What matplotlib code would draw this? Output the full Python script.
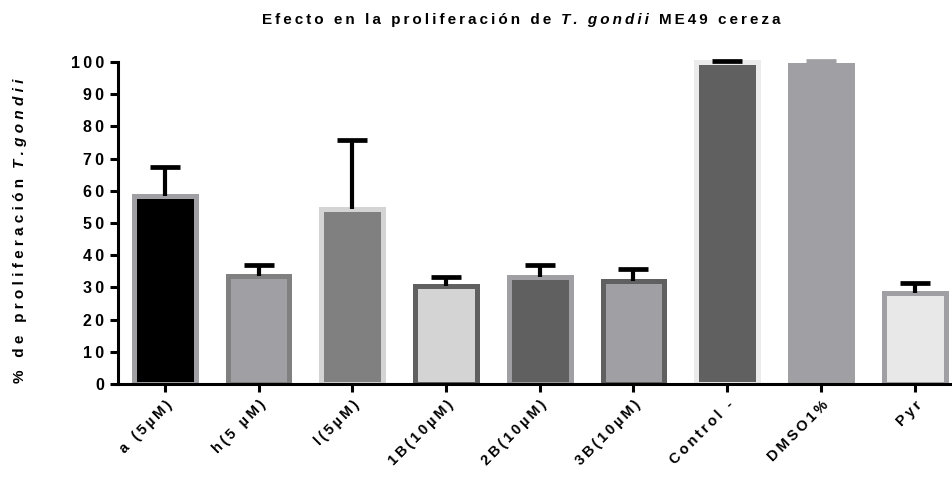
import numpy as np
import matplotlib
matplotlib.use('Agg')
import matplotlib.pyplot as plt
from matplotlib.patches import Rectangle

plt.rcParams['font.family'] = ['Liberation Sans', 'DejaVu Sans']
plt.rcParams['font.weight'] = 'bold'

# % proliferacion de T. gondii ME49 cereza (media y error superior)
labels = ['a (5µM)', 'h(5 µM)', 'l(5µM)', '1B(10µM)', '2B(10µM)',
          '3B(10µM)', 'Control -', 'DMSO1%', 'Pyr']
means = [58.5, 33.5, 54.5, 30.3, 33.3, 32.0, 100.0, 99.0, 28.3]
err_up = [9.0, 3.5, 21.3, 3.0, 3.7, 3.7, 0.4, 1.2, 3.1]

fills = ['#000000', '#a0a0a4', '#808080', '#d4d4d4', '#606060',
         '#a0a0a4', '#606060', '#a0a0a4', '#e8e8e8']
edges = ['#a0a0a4', '#808080', '#d4d4d4', '#606060', '#a0a0a4',
         '#606060', '#ebebeb', '#a0a0a4', '#a0a0a4']
errcols = ['k', 'k', 'k', 'k', 'k', 'k', 'k', '#a0a0a4', 'k']


def spaced(s, sep='\u2009'):
    # espaciado entre letras al estilo Prism
    return sep.join(s)


fig = plt.figure(figsize=(9.53, 4.92), dpi=100)
ax = fig.add_axes([118/953, 108/492, 1 - 118/953, (384 - 62)/492])

x = np.arange(len(labels))
bars = ax.bar(x, means, width=0.66, color=fills, edgecolor=edges, linewidth=3.6, zorder=2)
# recorte: se permite salir por arriba pero no por debajo del eje
clip = Rectangle((0, 0), 1, 1.1, transform=ax.transAxes, visible=False)
ax.add_patch(clip)
for b in bars:
    b.set_clip_path(clip)
for i in range(len(x)):
    eb = ax.errorbar(x[i], means[i], yerr=[[0], [err_up[i]]], fmt='none',
                     ecolor=errcols[i], elinewidth=3, capsize=11, capthick=3.4, zorder=3)
    # solo la barra de error hacia arriba: ocultar el cap inferior
    for cap in eb[1]:
        cap.set_clip_on(False)
        if abs(cap.get_ydata()[0] - means[i]) < 1e-9:
            cap.set_visible(False)
    for ln in eb[2]:
        ln.set_clip_on(False)

ax.set_xlim(-0.5, 8.41)
ax.set_ylim(0, 100)
ax.set_yticks(np.arange(0, 101, 10))
ax.set_yticklabels([spaced(str(v)) for v in range(0, 101, 10)], fontsize=11.5, fontweight='bold')
ax.set_xticks(x)
ax.set_xticklabels([spaced(l) for l in labels], rotation=45, ha='right',
                   rotation_mode='anchor', fontsize=10.5, fontweight='bold')

for s in ['top', 'right']:
    ax.spines[s].set_visible(False)
for s in ['left', 'bottom']:
    ax.spines[s].set_linewidth(2.2)
    ax.spines[s].set_clip_on(False)
ax.tick_params(axis='both', width=2.2, length=6, direction='out')
ax.tick_params(axis='y', pad=4)
ax.tick_params(axis='x', pad=4)

# titulo y etiqueta del eje y con partes en cursiva
fig.canvas.draw()
r = fig.canvas.get_renderer()


def draw_runs(runs, x0, y0, rotation=0, size=10, sep='\u2009', gap=6):
    pos = 0.0
    for txt, style in runs:
        if rotation == 0:
            t = fig.text(x0 + pos, y0, spaced(txt, sep), transform=None, fontsize=size,
                         fontweight='bold', style=style, ha='left', va='center')
            bb = t.get_window_extent(r)
            pos += bb.width + gap
        else:
            t = fig.text(x0, y0 + pos, spaced(txt, sep), transform=None, fontsize=size,
                         fontweight='bold', style=style, rotation=90,
                         ha='center', va='bottom')
            bb = t.get_window_extent(r)
            pos += bb.height + gap


draw_runs([('Efecto en la proliferación de', 'normal'), ('T. gondii', 'italic'),
           ('ME49 cereza', 'normal')], 262, 492 - 20, size=11, gap=10)
draw_runs([('% de proliferación', 'normal'), ('T.gondii', 'italic')],
          20, 492 - 383, rotation=90, size=11, sep='\u2009\u200a', gap=10)

fig.savefig('out.png', dpi=100)
